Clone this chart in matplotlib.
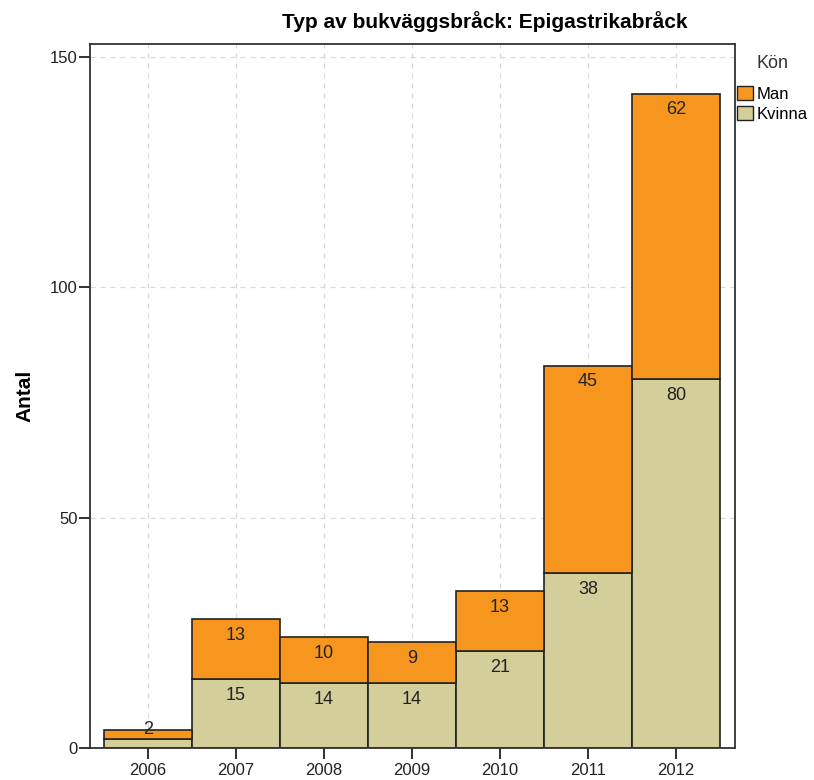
import matplotlib
matplotlib.use("Agg")
import matplotlib.pyplot as plt
from matplotlib.patches import Patch
import numpy as np

plt.rcParams['font.family'] = ['Liberation Sans', 'DejaVu Sans']

years = ["2006", "2007", "2008", "2009", "2010", "2011", "2012"]
kvinna = [2, 15, 14, 14, 21, 38, 80]
man = [2, 13, 10, 9, 13, 45, 62]

c_man = "#F7961E"
c_kvinna = "#D3CE9A"

fig = plt.figure(figsize=(8.14, 7.8), dpi=100)
ax = fig.add_axes([90/814, 32/780, (735-90)/814, (748-44)/780])

x = np.arange(len(years))
ax.set_axisbelow(True)
ax.grid(True, linestyle=(0, (4, 4)), color="#d9d9d9", linewidth=0.9)

ax.bar(x, kvinna, width=1.0, color=c_kvinna, edgecolor="#222222", linewidth=1.2, zorder=2)
ax.bar(x, man, width=1.0, bottom=kvinna, color=c_man, edgecolor="#222222", linewidth=1.2, zorder=2)

for xi, k, m in zip(x, kvinna, man):
    if k >= 5:
        ax.annotate(str(k), (xi, k), xytext=(0, -5.5), textcoords="offset points",
                    ha="center", va="top", fontsize=13, color="#222222", zorder=3)
    top = k + m
    if m >= 5:
        ax.annotate(str(m), (xi, top), xytext=(0, -5.5), textcoords="offset points",
                    ha="center", va="top", fontsize=13, color="#222222", zorder=3)
    else:
        ax.annotate(str(m), (xi, top), xytext=(0, 0), textcoords="offset points",
                    ha="center", va="center", fontsize=13, color="#222222", zorder=3)

ax.set_xlim(-0.659, 6.67)
ax.set_ylim(0, 152.8)
ax.set_xticks(x)
ax.set_xticklabels(years)
ax.set_yticks([0, 50, 100, 150])
ax.tick_params(axis="y", labelsize=12, length=8, width=1.3, direction="out", pad=1, colors="#222222")
ax.tick_params(axis="x", labelsize=12, length=8, width=1.3, direction="out", pad=3, colors="#222222")
for s in ax.spines.values():
    s.set_linewidth(1.3)
    s.set_color("#333333")

ax.set_ylabel("Antal", fontsize=15, fontweight="bold", labelpad=11)

fig.text(485/814, 1 - 22/780, "Typ av bukväggsbråck: Epigastrikabråck",
         ha="center", va="center", fontsize=15, fontweight="bold")

fig.text(757/814, 1 - 64/780, "Kön", ha="left", va="center", fontsize=13, color="#333333")
handles = [Patch(facecolor=c_man, edgecolor="#222222", linewidth=1.0, label="Man"),
           Patch(facecolor=c_kvinna, edgecolor="#222222", linewidth=1.0, label="Kvinna")]
fig.legend(handles=handles, loc="upper left", bbox_to_anchor=(737/814, 1 - 86/780),
           frameon=False, fontsize=12, handlelength=0.95, handleheight=0.95,
           handletextpad=0.25, labelspacing=0.25, borderpad=0, borderaxespad=0)

fig.savefig("out.png", dpi=100)
